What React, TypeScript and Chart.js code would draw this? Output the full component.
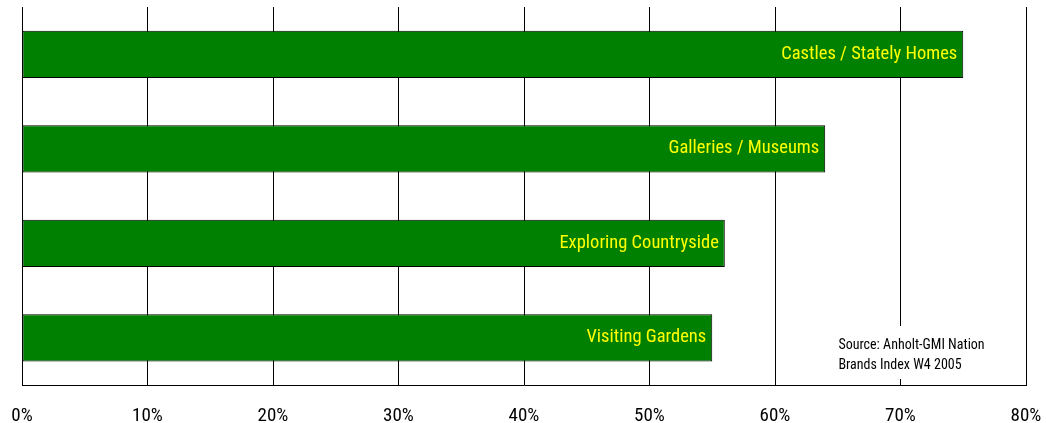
import React, { useEffect, useRef } from "react";
import { Chart, registerables } from "chart.js";

Chart.register(...registerables);

const categories = ["Castles / Stately Homes", "Galleries / Museums", "Exploring Countryside", "Visiting Gardens"];
const values = [75, 64, 56, 55];
const xTicks = [0, 10, 20, 30, 40, 50, 60, 70, 80];
const sourceLines = ["Source: Anholt-GMI Nation", "Brands Index W4 2005"];

const FONT = "'Roboto Condensed', 'Liberation Sans', Arial, sans-serif";

const barLabelPlugin = {
  id: "barLabels",
  afterDatasetsDraw(chart: any) {
    const ctx = chart.ctx;
    const meta = chart.getDatasetMeta(0);
    ctx.save();
    ctx.font = `18.5px ${FONT}`;
    ctx.fillStyle = "#FFFF00";
    ctx.textAlign = "right";
    ctx.textBaseline = "middle";
    meta.data.forEach((el: any, i: number) => {
      ctx.fillText(categories[i], el.x - 6, el.y);
    });
    ctx.restore();
  },
};

const sourcePlugin = {
  id: "sourceNote",
  afterDraw(chart: any) {
    const ctx = chart.ctx;
    const xs = chart.scales.x;
    const x0 = xs.getPixelForValue(65.05);
    const yTop = 345;
    ctx.save();
    ctx.fillStyle = "#ffffff";
    ctx.fillRect(x0 - 5, yTop - 19, 160, 53);
    ctx.font = `14px ${FONT}`;
    ctx.fillStyle = "#000000";
    ctx.textAlign = "left";
    ctx.textBaseline = "middle";
    sourceLines.forEach((t, i) => ctx.fillText(t, x0, yTop + i * 20));
    ctx.restore();
  },
};

export default function App() {
  const ref = useRef<HTMLCanvasElement>(null);
  useEffect(() => {
    document.body.style.margin = "0";
    const chart = new Chart(ref.current!, {
      type: "bar",
      data: {
        labels: categories,
        datasets: [
          {
            data: values,
            backgroundColor: "#008000",
            borderColor: "#000000",
            borderWidth: 1,
            borderSkipped: false,
            barPercentage: 0.5,
            categoryPercentage: 1,
          },
        ],
      },
      options: {
        indexAxis: "y",
        animation: false,
        responsive: false,
        layout: { padding: { left: 22, right: 20, top: 7, bottom: 0 } },
        plugins: { legend: { display: false }, tooltip: { enabled: false } },
        scales: {
          x: {
            min: 0,
            max: 80,
            afterBuildTicks: (scale: any) => {
              scale.ticks = xTicks.map((v) => ({ value: v }));
            },
            afterFit: (scale: any) => {
              scale.height = 38;
              scale.paddingLeft = 0;
              scale.paddingRight = 0;
            },
            grid: { color: "#000000", lineWidth: 1, drawTicks: false },
            border: { display: true, color: "#000000", width: 1 },
            ticks: {
              padding: 20,
              color: "#000000",
              font: { family: FONT, size: 19 },
              maxRotation: 0,
              callback: (v: any) => `${v}%`,
            },
          },
          y: {
            display: false,
          },
        },
      },
      plugins: [barLabelPlugin, sourcePlugin],
    });
    return () => chart.destroy();
  }, []);
  return <canvas ref={ref} width={1046} height={423} style={{ display: "block" }} />;
}
